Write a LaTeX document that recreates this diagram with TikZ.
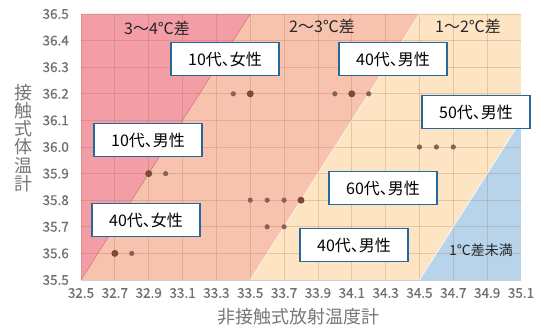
\documentclass[tikz,border=0pt]{standalone}
\usepackage{fontspec}
\setmainfont[RawFeature=+palt]{Noto Sans CJK JP}
\newfontfamily\tickfont[FakeBold=0.5]{Noto Sans CJK JP}
\definecolor{redz}{RGB}{243,158,166}
\definecolor{salz}{RGB}{248,195,174}
\definecolor{crez}{RGB}{253,229,196}
\definecolor{bluez}{RGB}{184,212,234}
\definecolor{boxblue}{RGB}{38,104,156}
\definecolor{tickgray}{RGB}{112,112,112}
\definecolor{titlegray}{RGB}{120,120,120}
\definecolor{gridc}{RGB}{150,90,40}
\definecolor{dotc}{RGB}{130,100,88}
\definecolor{dotbig}{RGB}{128,70,56}
\begin{document}
\begin{tikzpicture}[x=1pt,y=-1pt,
  gridline/.style={draw=gridc, draw opacity=0.22, line width=0.7pt},
  lbox/.style={draw=boxblue, line width=1.4pt, fill=white, minimum width=108pt, minimum height=33pt, inner sep=0pt, font=\fontsize{16}{18}\selectfont},
  zonelbl/.style={font=\fontsize{16}{18}\selectfont, text=black!85},
  ticklbl/.style={font=\tickfont\fontsize{13.5}{15}\selectfont, text=tickgray, inner sep=0pt},
  axtitle/.style={font=\fontsize{18}{18.3}\selectfont, text=titlegray, inner sep=0pt}]
\useasboundingbox (0,0) rectangle (547,329);
\fill[white] (0,0) rectangle (547,329);
\begin{scope}[shift={(81,280)}, x=169.23pt, y=266pt]
  \fill[redz] (0,0) -- (1,1) -- (0,1) -- cycle;
  \fill[salz] (0,0) -- (1,0) -- (2,1) -- (1,1) -- cycle;
  \fill[crez] (1,0) -- (2,0) -- (2.6,0.6) -- (2.6,1) -- (2,1) -- cycle;
  \fill[bluez] (2,0) -- (2.6,0) -- (2.6,0.6) -- cycle;
  \foreach \i in {0,...,13} \draw[gridline] (\i*0.2,0) -- (\i*0.2,1);
  \foreach \j in {0,...,10} \draw[gridline] (0,\j*0.1) -- (2.6,\j*0.1);
  \draw[red!60!black, draw opacity=0.35, line width=0.6pt] (0,0) -- (1,1);
  \draw[white, draw opacity=0.6, line width=0.8pt] (1,0) -- (2,1);
  \draw[white, draw opacity=0.8, line width=0.8pt] (2,0) -- (2.6,0.6);
  \draw[black!18, line width=0.8pt] (0,0) -- (2.6,0);
  \draw[white, line width=1pt] (2.6,0) -- (2.6,1);
  % dots
  \foreach \p in {(0.9,0.7),(1.5,0.7),(1.7,0.7),(2.0,0.5),(2.1,0.5),(2.2,0.5),(0.5,0.4),(0.3,0.1),(1.0,0.3),(1.1,0.3),(1.2,0.3),(1.1,0.2),(1.2,0.2)}
    \fill[dotc] \p circle[radius=2.6pt];
  \foreach \p in {(1.0,0.7),(1.6,0.7),(0.4,0.4),(0.2,0.1),(1.3,0.3)}
    \fill[dotbig] \p circle[radius=3.5pt];
  % tick labels
  \foreach \v [count=\i from 0] in {32.5,32.7,32.9,33.1,33.3,33.5,33.7,33.9,34.1,34.3,34.5,34.7,34.9,35.1}
    \node[ticklbl, yshift=-13pt] (xt\i) at (\i*0.2,0) {\v};
  \foreach \v [count=\j from 0] in {35.5,35.6,35.7,35.8,35.9,36.0,36.1,36.2,36.3,36.4,36.5}
    \node[ticklbl, anchor=east, xshift=-12pt] (yt\j) at (0,\j*0.1) {\v};
\end{scope}
% zone labels
\node[zonelbl] (z34) at (157,28) {3～4℃差};
\node[zonelbl] (z23) at (322,26) {2～3℃差};
\node[zonelbl] (z12) at (468,26) {1～2℃差};
\node[zonelbl, font=\fontsize{14}{16}\selectfont] (z01) at (481,250) {1℃差未満};
% boxes
\node[lbox] (b10f) at (225,59) {10代、女性};
\node[lbox] (b40m) at (393,59) {40代、男性};
\node[lbox] (b50m) at (476,112) {50代、男性};
\node[lbox] (b10m) at (148,140) {10代、男性};
\node[lbox] (b60m) at (383,188) {60代、男性};
\node[lbox] (b40f) at (146,220) {40代、女性};
\node[lbox] (b40m2) at (354,245) {40代、男性};
% axis titles
\node[axtitle, align=center] (ytitle) at (24,138) {接\\触\\式\\体\\温\\計};
\node[axtitle] (xtitle) at (298,317) {非接触式放射温度計};
\end{tikzpicture}
\end{document}
